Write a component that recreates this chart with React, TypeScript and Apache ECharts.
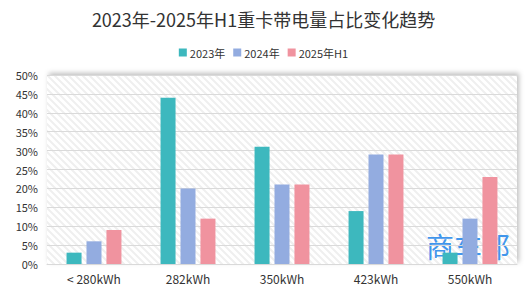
import React, { useEffect, useRef } from "react";
import * as echarts from "echarts";

const categories = ["< 280kWh", "282kWh", "350kWh", "423kWh", "550kWh"];
const seriesNames = ["2023年", "2024年", "2025年H1"];
const values2023 = [3, 44, 31, 14, 3];
const values2024 = [6, 20, 21, 29, 12];
const values2025 = [9, 12, 21, 29, 23];
const colors = ["#3DB8BE", "#93ACE0", "#F0939F"];
const titleText = "2023年-2025年H1重卡带电量占比变化趋势";

function makeStripe(): string {
  const c = document.createElement("canvas");
  c.width = 7;
  c.height = 7;
  const ctx = c.getContext("2d");
  if (ctx) {
    ctx.fillStyle = "#ffffff";
    ctx.fillRect(0, 0, 7, 7);
    ctx.strokeStyle = "#efefef";
    ctx.lineWidth = 2;
    ctx.beginPath();
    ctx.moveTo(-2, -2);
    ctx.lineTo(9, 9);
    ctx.moveTo(-2, 5);
    ctx.lineTo(2, 9);
    ctx.moveTo(5, -2);
    ctx.lineTo(9, 2);
    ctx.stroke();
  }
  return c.toDataURL();
}

export default function App() {
  const ref = useRef<HTMLDivElement>(null);
  useEffect(() => {
    if (!ref.current) return;
    const chart = echarts.init(ref.current, null, { renderer: "svg" });
    const stripe = makeStripe();
    const data = [values2023, values2024, values2025];
    chart.setOption({
      animation: false,
      title: {
        text: titleText,
        left: "center",
        top: 5,
        textStyle: {
          fontSize: 18,
          fontWeight: "normal",
          color: "#333",
          fontFamily: "Noto Sans CJK SC",
        },
      },
      legend: {
        data: seriesNames,
        top: 42,
        left: "center",
        itemWidth: 8,
        itemHeight: 8,
        itemGap: 8,
        icon: "rect",
        textStyle: { fontSize: 11, color: "#333", fontFamily: "Noto Sans CJK SC", padding: [0, 0, 0, -2] },
      },
      grid: {
        left: 47,
        right: 10,
        top: 75,
        bottom: 24,
        show: true,
        borderWidth: 0,
        backgroundColor: { image: stripe, repeat: "repeat" },
        shadowColor: "rgba(0,0,0,0.25)",
        shadowBlur: 5,
        shadowOffsetX: 2,
        shadowOffsetY: -2,
      },
      xAxis: {
        type: "category",
        data: categories,
        axisLine: { lineStyle: { color: "#d9d9d9" } },
        axisTick: { show: false },
        axisLabel: { fontSize: 12, color: "#333", margin: 8, fontFamily: "Noto Sans CJK SC" },
      },
      yAxis: {
        type: "value",
        min: 0,
        max: 50,
        interval: 5,
        axisLine: { show: false },
        axisTick: { show: false },
        axisLabel: { formatter: "{value}%", fontSize: 11, color: "#333", margin: 9, fontFamily: "Noto Sans CJK SC" },
        splitLine: { lineStyle: { color: "#dadada" } },
      },
      series: seriesNames.map((name, i) => ({
        name,
        type: "bar",
        data: data[i],
        barWidth: 15,
        barGap: "33%",
        itemStyle: { color: colors[i] },
      })),
      graphic: [
        {
          type: "text",
          left: 426,
          top: 232,
          style: {
            text: "商车邦",
            fontSize: 28,
            lineHeight: 28,
            fontWeight: "normal",
            fill: "rgba(45,140,235,0.92)",
            fontFamily: "Noto Sans CJK SC",
          },
        },
      ],
    });
    return () => chart.dispose();
  }, []);
  return <div ref={ref} style={{ width: 527, height: 288, position: "absolute", left: 0, top: 0 }} />;
}
